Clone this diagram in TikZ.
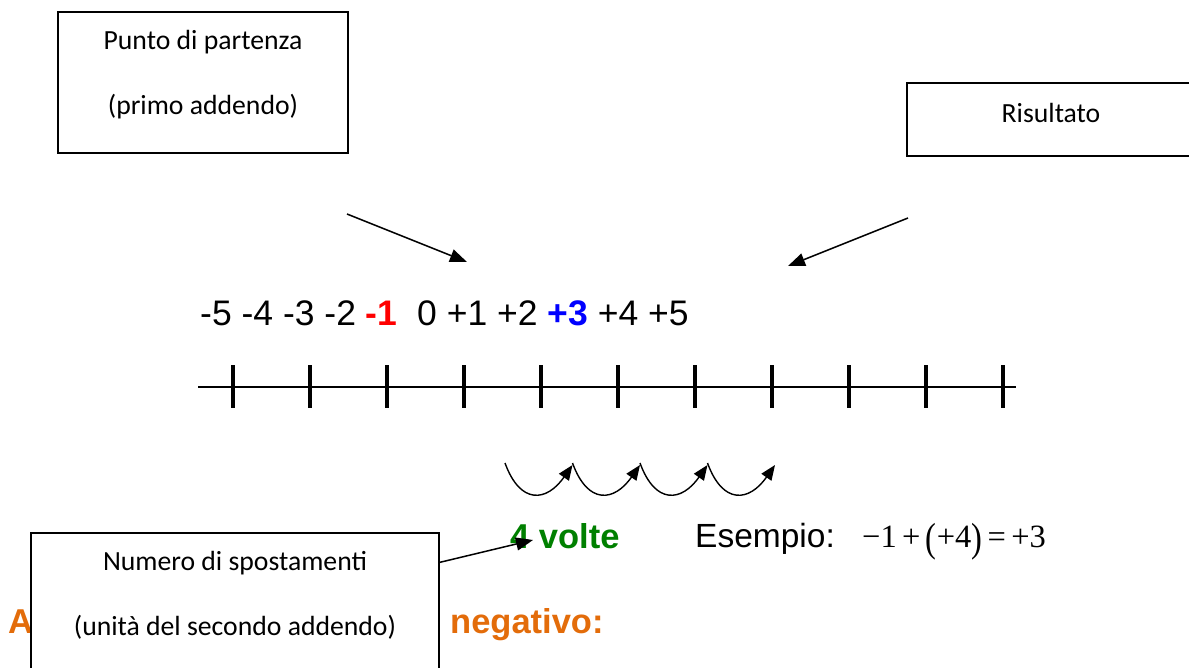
\documentclass[tikz,border=0pt]{standalone}
\usepackage{fontspec}
\usepackage{graphicx}
\setmainfont{Liberation Sans}
\newfontfamily\calibri{Carlito}
\newfontfamily\timesrm{Liberation Serif}
\usetikzlibrary{arrows.meta}
\definecolor{arancio}{HTML}{E36C0A}
\definecolor{verde}{HTML}{008000}
\newcommand\parapri{\raisebox{-4pt}{\scalebox{1}[1.25]{(}}}
\newcommand\parchiudi{\raisebox{-4pt}{\scalebox{1}[1.25]{)}}}

\begin{document}
\begin{tikzpicture}[x=1pt,y=-1pt,
  cornice/.style={draw,fill=white,line width=1.2pt,inner sep=0pt},
  didascalia/.style={font=\calibri\fontsize{27.7}{65}\selectfont,align=center,inner sep=0pt},
  cifre/.style={font=\fontsize{35.5}{40}\selectfont,anchor=base west,inner sep=0pt},
  titolo/.style={font=\fontsize{34.5}{40}\selectfont\bfseries,anchor=base west,inner sep=0pt},
  testo/.style={font=\fontsize{33.5}{40}\selectfont,anchor=base west,inner sep=0pt},
  freccia/.style={-{Triangle[length=17pt,width=13pt]},line width=1.5pt},
  salto/.style={-{Triangle[length=15pt,width=12pt]},line width=1.4pt},
  asse/.style={line width=2.6pt},
  tacca/.style={line width=3.2pt}]
\useasboundingbox (0,0) rectangle (1189,668);

% testo coperto dal riquadro
\node[titolo,text=arancio] (lettera) at (8,633) {A};
\node[titolo,text=arancio] (negativo) at (450,633) {negativo:};

% riquadri
\node[cornice,minimum width=290pt,minimum height=141pt] (partenza) at (203,82.5) {};
\node[didascalia] (partenzatxt) at (203,74.5) {Punto di partenza\\(primo addendo)};
\node[cornice,minimum width=288pt,minimum height=73pt] (risultato) at (1051,119.5) {};
\node[didascalia] (risultatotxt) at (1051,113) {Risultato};
\node[cornice,minimum width=408pt,minimum height=141pt] (spost) at (235,603.5) {};
\node[didascalia] (sposttxt) at (235,595.5) {Numero di spostamenti\\(unità del secondo addendo)};

% frecce
\coordinate (p1) at (347,214);
\coordinate (p2) at (467,262);
\draw[freccia] (p1) -- (p2);
\coordinate (r1) at (908,218);
\coordinate (r2) at (788,266);
\draw[freccia] (r1) -- (r2);

% retta dei numeri
\node[cifre] (numeri) at (200,326) {-5 -4 -3 -2 \textcolor{red}{\bfseries -1}~ 0 +1 +2 \textcolor{blue}{\bfseries +3} +4 +5};
\draw[asse] (198,387) -- (1016,387);
\foreach \i in {0,...,10}
  \draw[tacca] (233+77*\i,365) -- (233+77*\i,408);

% salti
\foreach \i in {0,...,3}
  \draw[salto] (505+67.5*\i,463) to[out=-70,in=-125,looseness=1.7] (572.5+67.5*\i,465);

\node[titolo,text=verde] (volte) at (510,548) {4 volte};
\coordinate (puntavolte) at (533,540);
\draw[freccia] ([yshift=-30pt]spost.north east) -- (puntavolte);

\node[testo] (esempio) at (695,547) {Esempio:};
\node[testo,font=\timesrm\fontsize{32.5}{40}\selectfont] (conto) at (862,547) {−1\,+\,\parapri+4\parchiudi\,=\,+3};
\end{tikzpicture}
\end{document}
